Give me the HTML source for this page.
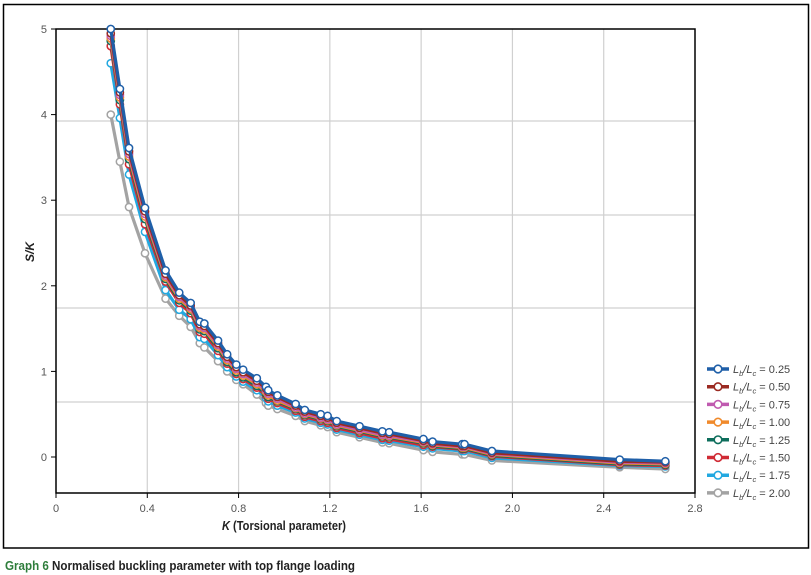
<!DOCTYPE html>
<html><head><meta charset="utf-8"><style>
body{margin:0;background:#fff;}
svg{display:block;font-family:"Liberation Sans Narrow","Liberation Sans",sans-serif;}
</style></head><body>
<svg id="chart" width="811" height="575" viewBox="0 0 811 575">
<rect x="3.5" y="4.5" width="805" height="543.5" fill="none" stroke="#000" stroke-width="1.5"/>
<g id="grid"></g>
<g id="axes"></g>
<g id="series"></g>
<g id="legend"></g>
<text x="34" y="252" transform="rotate(-90 34 252)" font-size="12" font-weight="bold" font-style="italic" text-anchor="middle" fill="#222">S/K</text>
<text x="222" y="530" font-size="12.5" font-weight="bold" fill="#222" textLength="124" lengthAdjust="spacingAndGlyphs"><tspan font-style="italic">K</tspan> (Torsional parameter)</text>
<text x="5" y="570" font-size="13" font-weight="bold" fill="#222" textLength="350" lengthAdjust="spacingAndGlyphs"><tspan fill="#2e7d3b">Graph 6</tspan> Normalised buckling parameter with top flange loading</text>
</svg>
<script>
const kValues=[0.24,0.28,0.32,0.39,0.48,0.54,0.59,0.63,0.65,0.71,0.75,0.79,0.82,0.88,0.92,0.93,0.97,1.05,1.09,1.16,1.19,1.23,1.33,1.43,1.46,1.61,1.65,1.78,1.79,1.91,2.47,2.67];
const s025=[5.00,4.30,3.61,2.91,2.18,1.92,1.80,1.58,1.56,1.36,1.20,1.08,1.02,0.92,0.82,0.78,0.72,0.62,0.55,0.50,0.48,0.42,0.36,0.30,0.29,0.21,0.18,0.15,0.15,0.07,-0.03,-0.05];
const s050=[4.95,4.26,3.57,2.87,2.14,1.89,1.77,1.55,1.53,1.33,1.17,1.05,0.99,0.89,0.80,0.76,0.70,0.60,0.53,0.48,0.46,0.40,0.34,0.28,0.27,0.19,0.16,0.13,0.13,0.05,-0.05,-0.06];
const s075=[4.92,4.23,3.54,2.84,2.12,1.87,1.75,1.53,1.51,1.31,1.15,1.03,0.97,0.87,0.78,0.74,0.68,0.58,0.51,0.46,0.44,0.38,0.32,0.26,0.25,0.18,0.15,0.12,0.12,0.04,-0.06,-0.07];
const s100=[4.89,4.20,3.51,2.81,2.10,1.85,1.73,1.51,1.49,1.29,1.13,1.01,0.95,0.85,0.76,0.72,0.66,0.57,0.50,0.45,0.43,0.37,0.31,0.25,0.24,0.17,0.14,0.11,0.11,0.03,-0.07,-0.08];
const s125=[4.86,4.17,3.48,2.78,2.08,1.83,1.71,1.49,1.47,1.27,1.11,0.99,0.93,0.83,0.74,0.70,0.65,0.56,0.49,0.44,0.42,0.36,0.30,0.24,0.23,0.16,0.13,0.10,0.10,0.02,-0.08,-0.09];
const s150=[4.80,4.12,3.42,2.72,2.05,1.80,1.68,1.46,1.44,1.24,1.09,0.97,0.91,0.81,0.72,0.68,0.63,0.54,0.47,0.42,0.40,0.34,0.28,0.22,0.21,0.14,0.12,0.09,0.09,0.01,-0.09,-0.10];
const s175=[4.60,3.96,3.30,2.63,1.95,1.72,1.61,1.40,1.38,1.19,1.05,0.94,0.88,0.78,0.69,0.65,0.60,0.52,0.45,0.40,0.38,0.32,0.26,0.20,0.19,0.12,0.10,0.07,0.07,-0.01,-0.10,-0.11];
const s200=[4.00,3.45,2.92,2.38,1.85,1.65,1.52,1.33,1.28,1.12,1.00,0.90,0.85,0.73,0.63,0.60,0.56,0.48,0.42,0.37,0.35,0.29,0.23,0.17,0.16,0.08,0.06,0.03,0.03,-0.04,-0.12,-0.14];
const seriesLabels=["0.25","0.50","0.75","1.00","1.25","1.50","1.75","2.00"];
const seriesColors=["#1f5fa8","#9b2a22","#c05ab0","#f08a2c","#0e6e5c","#d02b35","#22a8e0","#a3a3a3"];
const xTicks=[0,0.4,0.8,1.2,1.6,2.0,2.4,2.8];
const xTickLabels=["0","0.4","0.8","1.2","1.6","2.0","2.4","2.8"];
const yTicks=[0,1,2,3,4,5];

const NS="http://www.w3.org/2000/svg";
const X0=56,X1=695,Y5=29,Y0=457,YB=493;
const sx=k=>X0+(k/2.8)*(X1-X0);
const sy=v=>Y0-v*(Y0-Y5)/5;
function mk(tag,attrs,parent){const e=document.createElementNS(NS,tag);for(const a in attrs)e.setAttribute(a,attrs[a]);parent.appendChild(e);return e;}
const grid=document.getElementById('grid'),axes=document.getElementById('axes'),sg=document.getElementById('series'),lg=document.getElementById('legend');

xTicks.forEach((t,i)=>{
  if(i>0&&i<xTicks.length-1){const g=mk('line',{x1:sx(t),x2:sx(t),y1:Y5,y2:YB,stroke:'#d0d0d0','stroke-width':1.2},grid);
  
  }
  const tk=mk('line',{x1:sx(t),x2:sx(t),y1:YB,y2:YB+5,stroke:'#000','stroke-width':1},axes);
  
  
  const tx=mk('text',{x:sx(t),y:YB+19,'font-size':11,'text-anchor':'middle',fill:'#555'},axes);
  tx.textContent=xTickLabels[i];
  
  
});
[121,215,308,402].forEach(y=>{
  const g=mk('line',{x1:X0,x2:X1,y1:y,y2:y,stroke:'#d0d0d0','stroke-width':1.2},grid);
  
  
});
yTicks.forEach(t=>{
  const tk=mk('line',{x1:X0-5,x2:X0,y1:sy(t),y2:sy(t),stroke:'#000','stroke-width':1},axes);
  
  
  const tx=mk('text',{x:X0-9,y:sy(t)+4,'font-size':11,'text-anchor':'end',fill:'#555'},axes);
  tx.textContent=String(t);
  
  
});
const frame=mk('rect',{x:X0,y:Y5,width:X1-X0,height:YB-Y5,fill:'none',stroke:'#000','stroke-width':1.5},axes);



const allSeries=[s025,s050,s075,s100,s125,s150,s175,s200];
for(let si=allSeries.length-1;si>=0;si--){
  const vals=allSeries[si],col=seriesColors[si];
  const g=mk('g',{},sg);
  
  
  const pts=kValues.map((k,i)=>sx(k)+','+sy(vals[i])).join(' ');
  const pl=mk('polyline',{points:pts,fill:'none',stroke:col,'stroke-width':3.2,'stroke-linejoin':'round'},g);
  
  
  kValues.forEach((k,i)=>{
    const c=mk('circle',{cx:sx(k),cy:sy(vals[i]),r:3.6,fill:'#fff',stroke:col,'stroke-width':1.5},g);
    
    
  });
}
seriesLabels.forEach((l,i)=>{
  const y=369+i*17.7;
  const g=mk('g',{},lg);
  
  
  mk('line',{x1:707,x2:729,y1:y,y2:y,stroke:seriesColors[i],'stroke-width':3.5},g);
  mk('circle',{cx:718,cy:y,r:3.8,fill:'#fff',stroke:seriesColors[i],'stroke-width':1.6},g);
  const t=mk('text',{x:733,y:y+4,'font-size':11,fill:'#444'},g);
  t.innerHTML='<tspan font-style="italic">L</tspan><tspan font-size="7.5" dy="3" font-style="italic">b</tspan><tspan dy="-3" font-style="italic">/L</tspan><tspan font-size="7.5" dy="3" font-style="italic">c</tspan><tspan dy="-3"> = '+l+'</tspan>';
});
</script>
</body></html>
